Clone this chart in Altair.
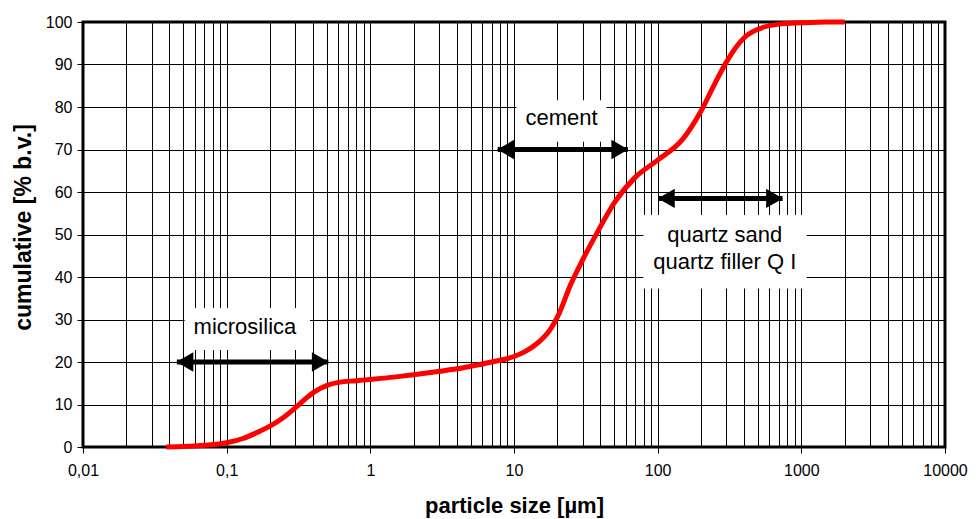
import altair as alt
import pandas as pd

# particle size distribution (cumulative % by volume)
size_um = [0.038, 0.05, 0.07, 0.1, 0.13, 0.16, 0.2, 0.25, 0.3, 0.35, 0.4, 0.5, 0.6, 0.8,
           1, 1.5, 2, 3, 4, 5, 7, 10, 12, 15, 18, 20, 25, 30, 38, 50, 70, 100, 150,
           200, 250, 300, 350, 400, 500, 700, 1000, 1500, 2000]
cumulative = [0, 0.1, 0.4, 1.0, 2.0, 3.3, 4.9, 7.0, 9.2, 11.2, 12.8, 14.5, 15.2, 15.6,
              15.9, 16.5, 17.0, 17.8, 18.4, 19.0, 20.0, 21.3, 22.5, 24.8, 27.8, 30.5,
              38.5, 44.0, 50.5, 57.5, 63.5, 67.5, 72.5, 79.0, 85.5, 90.5, 94.0,
              96.3, 98.3, 99.5, 99.8, 100, 100]

# annotations
arrow_from = [0.045, 7.7, 101]
arrow_to = [0.51, 62, 740]
arrow_y = [20, 70, 58.5]

box_x = [0.051, 10.4, 79.5]
box_x2 = [0.38, 44, 1090]
box_y = [22.8, 71.8, 37.3]
box_y2 = [32.7, 81.6, 54.6]

label_text = ["microsilica", "cement", "quartz sand", "quartz filler Q I"]
label_x = [0.134, 21.4, 293, 293]
label_y = [28.3, 77.3, 49.9, 43.6]

y_ticks = list(range(0, 101, 10))
x_ticks = [float(f"{k}e{e}") for e in range(-2, 4) for k in range(1, 10)] + [10000.0]

FONT = "Liberation Sans"

curve = pd.DataFrame({"size": size_um, "cum": cumulative})
arrows = pd.DataFrame({"x": arrow_from, "x2": arrow_to, "y": arrow_y})
boxes = pd.DataFrame({"x": box_x, "x2": box_x2, "y": box_y, "y2": box_y2})
labels = pd.DataFrame({"x": label_x, "y": label_y, "t": label_text})

major = "abs(log(datum.value)/LN10 - round(log(datum.value)/LN10)) < 0.001"

xscale = alt.Scale(type="log", domain=[0.01, 10000], nice=False)
yscale = alt.Scale(domain=[0, 100], nice=False)

xaxis = alt.Axis(
    values=x_ticks, grid=True, domain=False,
    labelExpr=f"{major} ? replace(toString(datum.value), '.', ',') : ''",
    labelOverlap=False, labelFlush=False, labelPadding=9, tickSize=6,
    tickOpacity={"condition": {"test": major, "value": 1}, "value": 0},
    title="particle size [µm]", titleX=431, titleY=58, titleBaseline="middle",
    titleAlign="center", titleFontSize=22,
)
yaxis = alt.Axis(
    values=y_ticks, grid=True, domain=False, tickSize=6, labelPadding=5,
    title="cumulative [% b.v.]", titleX=-60, titleY=205, titleAngle=-90,
    titleBaseline="middle", titleAlign="center", titleFontSize=23,
)

line = alt.Chart(curve).mark_line(color="#ff0000", strokeWidth=5, interpolate="monotone").encode(
    x=alt.X("size:Q", scale=xscale, axis=xaxis),
    y=alt.Y("cum:Q", scale=yscale, axis=yaxis),
)

rects = alt.Chart(boxes).mark_rect(color="white").encode(
    x=alt.X("x:Q", scale=xscale), x2="x2:Q",
    y=alt.Y("y:Q", scale=yscale), y2="y2:Q",
)

shafts = alt.Chart(arrows).mark_rule(color="black", strokeWidth=5).encode(
    x=alt.X("x:Q", scale=xscale), x2="x2:Q", y=alt.Y("y:Q", scale=yscale),
)
head_l = alt.Chart(arrows).mark_point(shape="triangle-left", filled=True, color="black",
                                      size=380, opacity=1, xOffset=8).encode(
    x=alt.X("x:Q", scale=xscale), y=alt.Y("y:Q", scale=yscale),
)
head_r = alt.Chart(arrows).mark_point(shape="triangle-right", filled=True, color="black",
                                      size=380, opacity=1, xOffset=-8).encode(
    x=alt.X("x2:Q", scale=xscale), y=alt.Y("y:Q", scale=yscale),
)

texts = alt.Chart(labels).mark_text(font=FONT, fontSize=22, color="black",
                                    align="center", baseline="middle").encode(
    x=alt.X("x:Q", scale=xscale), y=alt.Y("y:Q", scale=yscale), text="t:N",
)

chart = alt.layer(rects, line, shafts, head_l, head_r, texts).properties(
    width=862, height=425,
    autosize=alt.AutoSizeParams(type="none"),
    padding={"left": 83, "top": 22, "right": 34, "bottom": 72},
    background="white",
).configure_view(
    stroke="black", strokeWidth=3,
).configure_axis(
    gridColor="black", gridWidth=1, gridOpacity=1,
    labelFont=FONT, labelFontSize=16, labelColor="black",
    tickColor="black", tickWidth=1,
    titleFont=FONT, titleFontWeight="bold", titleColor="black",
)

chart.save("out.html", embed_options={"renderer": "svg", "actions": False})
